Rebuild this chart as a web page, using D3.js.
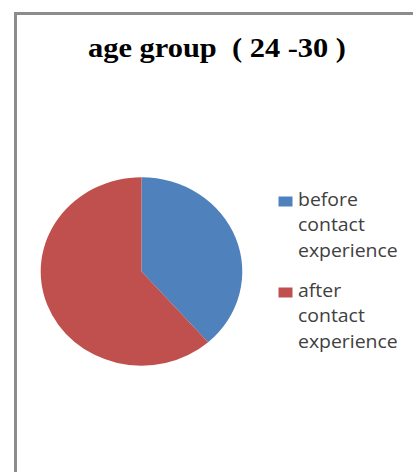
<!DOCTYPE html>
<html><head><meta charset="utf-8">
<script src="https://cdn.jsdelivr.net/npm/d3@7"></script>
<style>body{margin:0;background:#fff}svg{display:block}</style>
</head><body>
<script>
const categories = ["before contact experience", "after contact experience"];
const legendLines = [["before", "contact", "experience"], ["after", "contact", "experience"]];
const values = [38.5, 61.5];
const colors = ["#4F81BD", "#C0504D"];
const title = "age group  ( 24 -30 )";

const W = 413, H = 472;
const svg = d3.select("body").append("svg").attr("width", W).attr("height", H);

svg.append("rect").attr("x", 15.5).attr("y", 13.5).attr("width", 430).attr("height", 500)
  .attr("fill", "#fff").attr("stroke", "#8c8c8c").attr("stroke-width", 3);

svg.append("text").attr("x", 88).attr("y", 57)
  .attr("font-family", "Liberation Serif, Times New Roman, serif").attr("font-weight", "bold")
  .attr("font-size", 28).attr("fill", "#000").style("white-space", "pre")
  .attr("textLength", 258).attr("lengthAdjust", "spacingAndGlyphs").text(title);

const cx = 141.5, cy = 271.5, r = 100.8, sy = 94.2 / 100.8;
const pie = d3.pie().sort(null).value(d => d);
const arc = d3.arc().innerRadius(0).outerRadius(r);
const g = svg.append("g").attr("transform", `translate(${cx},${cy}) scale(1,${sy})`);
g.selectAll("path").data(pie(values)).join("path")
  .attr("d", arc).attr("fill", (d, i) => colors[i]);

const y0 = [206, 297], lh = 25.5;
categories.forEach((c, i) => {
  svg.append("rect").attr("x", 278.5).attr("y", y0[i] - 9.5).attr("width", 14).attr("height", 10).attr("fill", colors[i]);
  const lg = svg.append("g").attr("transform", `translate(298,0) scale(1.08,1)`)
    .attr("font-family", "Open Sans, Liberation Sans, sans-serif")
    .attr("font-size", 18).attr("fill", "#404040");
  legendLines[i].forEach((t, j) => {
    lg.append("text").attr("x", 0).attr("y", y0[i] + j * lh).text(t);
  });
});
</script>
</body></html>
